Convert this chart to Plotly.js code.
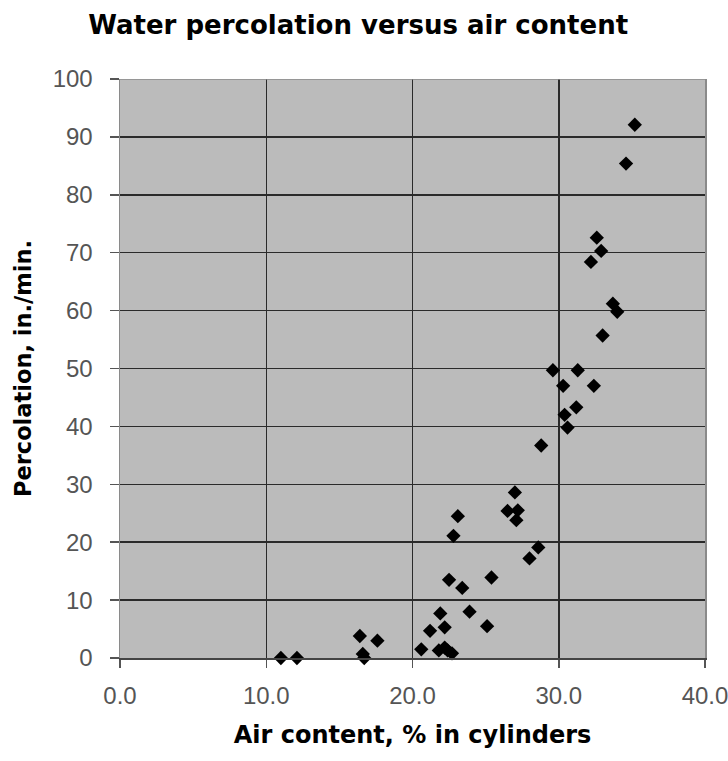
<!DOCTYPE html>
<html>
<head>
<meta charset="utf-8">
<script src="https://cdn.plot.ly/plotly-3.0.1.min.js"></script>
<style>html,body{margin:0;padding:0;background:#fff;}#chart{width:728px;height:761px;}</style>
</head>
<body>
<div id="chart"></div>
<script>
const airContent = [11.0, 12.1, 16.4, 16.6, 16.7, 17.6, 20.6, 21.2, 21.9, 22.2, 21.8, 22.2, 22.4, 22.7,
  22.5, 22.8, 23.1, 23.4, 23.9, 25.1, 25.4, 26.5, 27.0, 27.2, 27.1, 28.0, 28.6, 28.8,
  29.6, 30.3, 30.4, 30.6, 31.2, 31.3, 32.4, 32.2, 32.6, 32.9, 33.0, 33.7, 34.0, 34.6, 35.2];
const percolation = [0.0, 0.0, 3.8, 0.7, 0.0, 3.0, 1.5, 4.7, 7.7, 5.3, 1.3, 1.8, 1.3, 0.8,
  13.5, 21.1, 24.5, 12.1, 8.0, 5.5, 13.9, 25.4, 28.6, 25.5, 23.8, 17.2, 19.1, 36.7,
  49.7, 47.0, 42.0, 39.8, 43.3, 49.7, 47.0, 68.4, 72.6, 70.3, 55.7, 61.2, 59.8, 85.4, 92.1];
const xTicks = [0, 10, 20, 30, 40];
const xTickText = ["0.0", "10.0", "20.0", "30.0", "40.0"];
const yTicks = [0, 10, 20, 30, 40, 50, 60, 70, 80, 90, 100];

const TFONT = "DejaVu Sans, Verdana, sans-serif";
const NFONT = "Liberation Sans, Arial, sans-serif";
const trace = {
  x: airContent, y: percolation, type: "scatter", mode: "markers",
  cliponaxis: false,
  marker: {symbol: "diamond", size: 11, color: "#000"},
  hoverinfo: "none"
};
const layout = {
  width: 728, height: 761,
  margin: {l: 120, r: 23, t: 79, b: 103},
  paper_bgcolor: "#ffffff",
  plot_bgcolor: "#bbbbbb",
  showlegend: false,
  title: {text: "<b>Water percolation versus air content</b>", x: 0.492, xanchor: "center", y: 0.967, yanchor: "middle",
          font: {family: TFONT, size: 26, color: "#000"}},
  xaxis: {
    range: [0, 40], tickvals: xTicks, ticktext: xTickText,
    showgrid: true, gridcolor: "#2a2a2a", gridwidth: 1.5,
    showline: true, linecolor: "#444", linewidth: 1.5, mirror: false,
    ticks: "outside", ticklen: 8, tickcolor: "#555", tickwidth: 1.5,
    ticklabelstandoff: 8, ticklabeloverflow: "allow",
    tickfont: {family: NFONT, size: 24, color: "#555"},
    zeroline: false, automargin: false,
    title: {text: "<b>Air content, % in cylinders</b>", standoff: 18, font: {family: TFONT, size: 24, color: "#000"}}
  },
  yaxis: {
    range: [0, 100], tickvals: yTicks,
    showgrid: true, gridcolor: "#2a2a2a", gridwidth: 1.5,
    showline: true, linecolor: "#8a8a8a", linewidth: 1.5, mirror: true,
    ticks: "outside", ticklen: 9, tickcolor: "#555", tickwidth: 1.5,
    ticklabelstandoff: 12, ticklabeloverflow: "allow",
    tickfont: {family: NFONT, size: 24, color: "#555"},
    zeroline: false, automargin: false,
    title: {text: "<b>Percolation, in./min.</b>", standoff: 15, font: {family: TFONT, size: 22.5, color: "#000"}}
  },
  shapes: [
    {type: "line", xref: "paper", yref: "y", x0: 0, x1: 1, y0: 100, y1: 100, line: {color: "#8a8a8a", width: 1.5}, layer: "above"}
  ]
};
Plotly.newPlot("chart", [trace], layout, {staticPlot: true, displayModeBar: false});
</script>
</body>
</html>
